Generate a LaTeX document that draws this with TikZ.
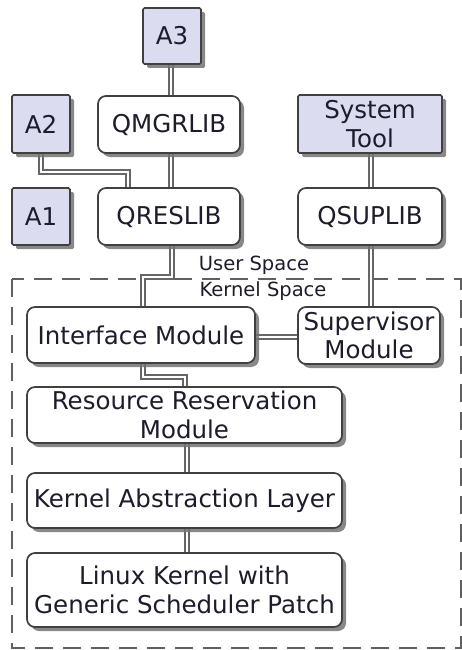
\documentclass[tikz,border=0pt]{standalone}
\usepackage{fontspec}
\setmainfont{DejaVu Sans}
\usetikzlibrary{shadows,backgrounds}
\definecolor{lav}{HTML}{DCDCF0}
\definecolor{txt}{HTML}{1C1C2C}
\definecolor{edge}{HTML}{404040}
\tikzset{
  base/.style={draw=edge, line width=1.7pt, text=txt, align=center,
    font=\fontsize{24.5}{28.5}\selectfont, inner sep=0pt,
    drop shadow={shadow xshift=4pt, shadow yshift=-4pt, fill=black!55, opacity=0.85}},
  appbox/.style={base, fill=lav, rounded corners=1.5pt},
  libbox/.style={base, fill=white, rounded corners=8pt},
  conn/.style={draw=gray!80!black, line width=1.3pt, double=white, double distance=2.6pt},
  spacelbl/.style={text=txt, font=\fontsize{19.5}{22}\selectfont, inner sep=0pt}
}
\begin{document}
\begin{tikzpicture}[x=1pt,y=-1pt]
\useasboundingbox (0,0) rectangle (461,650);
% nodes
\node[appbox, minimum width=58pt, minimum height=56pt] (a3) at (172,36) {A3};
\node[appbox, minimum width=58pt, minimum height=58pt] (a2) at (41,124) {A2};
\node[appbox, minimum width=58pt, minimum height=57pt] (a1) at (41,216.5) {A1};
\node[libbox, minimum width=142pt, minimum height=57pt] (qm) at (169,124.5) {QMGRLIB};
\node[libbox, minimum width=142pt, minimum height=57pt] (qr) at (169,216.5) {QRESLIB};
\node[appbox, minimum width=144pt, minimum height=58pt] (st) at (370,124) {System\\Tool};
\node[libbox, minimum width=144pt, minimum height=57pt] (qs) at (370,216.5) {QSUPLIB};
\node[libbox, minimum width=228pt, minimum height=56pt] (im) at (141,335) {Interface Module};
\node[libbox, minimum width=142pt, minimum height=57pt] (sv) at (369,335.5) {Supervisor\\Module};
\node[libbox, minimum width=315pt, minimum height=56pt] (rr) at (184.5,415) {Resource Reservation\\Module};
\node[libbox, minimum width=315pt, minimum height=55pt] (kal) at (184.5,500.5) {Kernel Abstraction Layer};
\node[libbox, minimum width=315pt, minimum height=74pt] (lk) at (184.5,590) {Linux Kernel with\\Generic Scheduler Patch};
\node[spacelbl] (us) at (254,265) {User Space};
\node[spacelbl] (ks) at (263,291) {Kernel Space};
% helper coordinates
\coordinate (j1) at (128,172);
\coordinate (j2) at (172,277);
\coordinate (j3) at (143,277);
\coordinate (j4) at (143,377);
\coordinate (j5) at (185,377);
\coordinate (j6) at (187,0);
\coordinate (j7) at (0,337);
\coordinate (j8) at (371,0);
\coordinate (j9) at (171,0);
\coordinate (bx1) at (12,279);
\coordinate (bx2) at (461,648);
\begin{scope}[on background layer]
  \draw[gray!75!black, line width=2pt, dash pattern=on 18pt off 10pt] (bx1) rectangle (bx2);
  \draw[conn] (j9 |- a3.south) -- (j9 |- qm.north);
  \draw[conn] (j9 |- qm.south) -- (j9 |- qr.north);
  \draw[conn] (a2.south) |- (j1) -- (j1 |- qr.north);
  \draw[conn] (j2 |- qr.south) -- (j2) -- (j3) -- (j3 |- im.north);
  \draw[conn] (j8 |- st.south) -- (j8 |- qs.north);
  \draw[conn] (j8 |- qs.south) -- (j8 |- sv.north);
  \draw[conn] (im.east |- j7) -- (sv.west |- j7);
  \draw[conn] (j4 |- im.south) -- (j4) -- (j5) -- (j5 |- rr.north);
  \draw[conn] (j6 |- rr.south) -- (j6 |- kal.north);
  \draw[conn] (j6 |- kal.south) -- (j6 |- lk.north);
\end{scope}
\end{tikzpicture}
\end{document}
